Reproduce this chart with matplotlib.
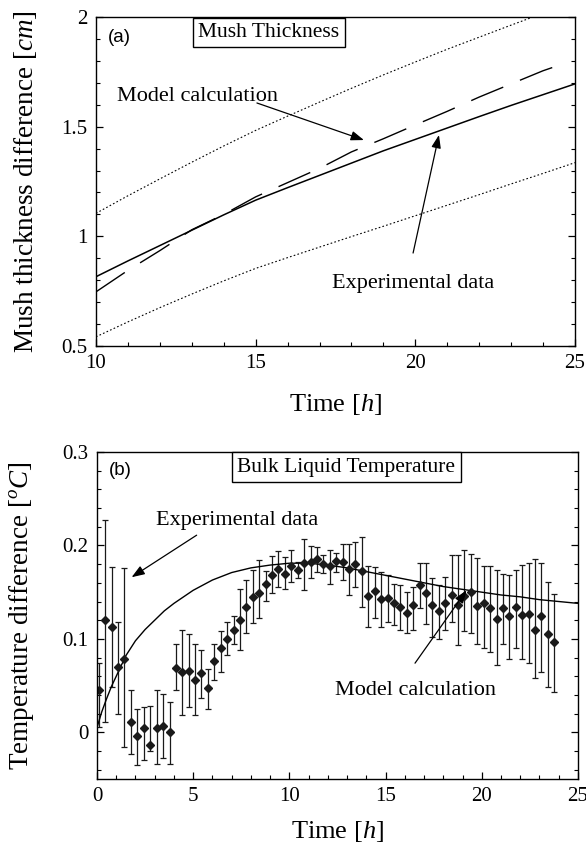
import numpy as np
import matplotlib
matplotlib.use("Agg")
import matplotlib.pyplot as plt
from matplotlib.ticker import MultipleLocator, FormatStrFormatter

plt.rcParams['font.family'] = ['Liberation Serif', 'DejaVu Serif']
plt.rcParams['mathtext.fontset'] = 'custom'
plt.rcParams['mathtext.rm'] = 'Liberation Serif'
plt.rcParams['mathtext.it'] = 'Liberation Serif:italic'

#########################
# (a) mush thickness
t_a = [10, 11, 12, 13, 14, 15, 16, 17, 18, 19, 20, 21, 22, 23, 24, 25]
mush_exp = [0.816, 0.888, 0.958, 1.028, 1.098, 1.165, 1.222, 1.278,
            1.334, 1.390, 1.442, 1.494, 1.546, 1.597, 1.646, 1.695]
mush_upper = [1.105, 1.185, 1.262, 1.338, 1.412, 1.483, 1.548, 1.612,
              1.675, 1.736, 1.795, 1.853, 1.908, 1.963, 2.017, 2.070]
mush_lower = [0.542, 0.610, 0.675, 0.737, 0.797, 0.854, 0.903, 0.951,
              0.999, 1.046, 1.094, 1.142, 1.190, 1.239, 1.287, 1.336]
t_a_model = [10, 11, 12, 13, 14, 15, 16, 17, 18, 19, 20, 21, 22, 23, 24, 24.4]
mush_model = [0.747, 0.845, 0.935, 1.030, 1.100, 1.180, 1.245, 1.310,
              1.385, 1.445, 1.508, 1.570, 1.635, 1.695, 1.755, 1.775]

# (b) bulk liquid temperature
t_b_model = [0, 0.25, 0.5, 0.75, 1, 1.5, 2, 2.5, 3, 3.5, 4, 5, 6, 7, 8, 9, 10,
             11, 12, 13, 14, 15, 16, 17, 18, 19, 20, 21, 22, 23, 24, 25]
temp_model = [0.005, 0.022, 0.036, 0.049, 0.060, 0.082, 0.098, 0.110,
              0.120, 0.130, 0.138, 0.152, 0.163, 0.171, 0.176, 0.179,
              0.181, 0.181, 0.179, 0.176, 0.172, 0.168, 0.164, 0.160,
              0.156, 0.153, 0.150, 0.147, 0.145, 0.142, 0.140, 0.138]

t_b = [0.10, 0.43, 0.77, 1.10, 1.43, 1.77, 2.10, 2.43, 2.77, 3.10, 3.43, 3.77,
       4.10, 4.43, 4.77, 5.10, 5.43, 5.77, 6.10, 6.43, 6.77, 7.10, 7.43, 7.77,
       8.10, 8.43, 8.77, 9.10, 9.43, 9.77, 10.10, 10.43, 10.77, 11.10, 11.43, 11.77,
       12.10, 12.43, 12.77, 13.10, 13.43, 13.77, 14.10, 14.43, 14.77, 15.10, 15.43, 15.77,
       16.10, 16.43, 16.77, 17.10, 17.43, 17.77, 18.10, 18.43, 18.77, 19.10, 19.43, 19.77,
       20.10, 20.43, 20.77, 21.10, 21.43, 21.77, 22.10, 22.43, 22.77, 23.10, 23.43, 23.77]
temp_exp = [0.045, 0.120, 0.113, 0.070, 0.079, 0.011, -0.004, 0.005, -0.014, 0.005, 0.007, 0.000,
            0.069, 0.065, 0.066, 0.056, 0.063, 0.047, 0.076, 0.090, 0.100, 0.109, 0.120, 0.134,
            0.145, 0.149, 0.159, 0.168, 0.175, 0.169, 0.178, 0.174, 0.181, 0.182, 0.185, 0.180,
            0.178, 0.183, 0.182, 0.175, 0.180, 0.173, 0.146, 0.151, 0.143, 0.144, 0.138, 0.134,
            0.128, 0.136, 0.158, 0.149, 0.136, 0.130, 0.138, 0.147, 0.136, 0.146, 0.150, 0.135,
            0.138, 0.133, 0.121, 0.133, 0.124, 0.134, 0.126, 0.127, 0.110, 0.124, 0.105, 0.097]
temp_hi = [0.074, 0.227, 0.177, 0.118, 0.176, 0.045, 0.025, 0.027, 0.028, 0.045, 0.041, 0.032,
           0.094, 0.110, 0.105, 0.094, 0.088, 0.068, 0.095, 0.108, 0.118, 0.124, 0.153, 0.163,
           0.174, 0.184, 0.173, 0.189, 0.194, 0.188, 0.195, 0.182, 0.207, 0.199, 0.198, 0.190,
           0.195, 0.192, 0.202, 0.202, 0.204, 0.209, 0.178, 0.177, 0.172, 0.168, 0.159, 0.158,
           0.150, 0.156, 0.181, 0.181, 0.165, 0.158, 0.166, 0.190, 0.190, 0.195, 0.191, 0.187,
           0.178, 0.178, 0.174, 0.169, 0.168, 0.174, 0.179, 0.181, 0.185, 0.181, 0.161, 0.148]
temp_lo = [0.006, 0.011, 0.049, 0.020, -0.016, -0.023, -0.035, -0.030, -0.020, -0.034, -0.028, -0.034,
           0.045, 0.018, 0.027, 0.018, 0.037, 0.025, 0.056, 0.065, 0.083, 0.095, 0.088, 0.106,
           0.117, 0.122, 0.141, 0.149, 0.156, 0.153, 0.161, 0.165, 0.152, 0.165, 0.172, 0.170,
           0.159, 0.172, 0.163, 0.147, 0.156, 0.134, 0.113, 0.122, 0.113, 0.118, 0.115, 0.109,
           0.106, 0.109, 0.133, 0.116, 0.102, 0.100, 0.109, 0.118, 0.093, 0.108, 0.106, 0.095,
           0.090, 0.086, 0.072, 0.094, 0.079, 0.090, 0.079, 0.074, 0.058, 0.065, 0.049, 0.043]
#########################

fig = plt.figure(figsize=(5.86, 8.5), dpi=100)
ax1 = fig.add_axes([0.1638, 0.5929, 0.8174, 0.3871])
ax2 = fig.add_axes([0.1655, 0.0835, 0.8208, 0.3847])

arrow = dict(arrowstyle='-|>,head_length=0.6,head_width=0.22', color='black',
             lw=0.9, shrinkA=0, shrinkB=0, mutation_scale=13)
box = dict(boxstyle='square,pad=0.25', fc='white', ec='black', lw=1.0)


def style_axes(ax):
    for s in ax.spines.values():
        s.set_linewidth(1.0)
    ax.tick_params(which='both', direction='in', top=False, right=True,
                   labelsize=15, pad=6)
    ax.tick_params(which='major', length=5, width=0.9)
    ax.tick_params(which='minor', length=3, width=0.8)


# panel (a)
ax1.plot(t_a, mush_exp, color='black', lw=1.1)
ax1.plot(t_a_model, mush_model, color='black', lw=1.0, dashes=(25, 13))
ax1.plot(t_a, mush_upper, color='black', lw=0.8, ls=(0, (1.5, 2)))
ax1.plot(t_a, mush_lower, color='black', lw=0.8, ls=(0, (1.5, 2)))
ax1.set_xlim(10, 25)
ax1.set_ylim(0.5, 2)
ax1.xaxis.set_major_locator(MultipleLocator(5))
ax1.xaxis.set_minor_locator(MultipleLocator(1))
ax1.yaxis.set_major_locator(MultipleLocator(0.5))
ax1.yaxis.set_minor_locator(MultipleLocator(0.1))
ax1.yaxis.set_major_formatter(FormatStrFormatter('%g'))
style_axes(ax1)
ax1.set_xlabel('Time [$h$]', fontsize=19, va='center')
ax1.xaxis.set_label_coords(0.5, -0.178)
ax1.set_ylabel('Mush thickness difference [$cm$]', fontsize=19.5, va='center')
ax1.yaxis.set_label_coords(-0.148, 0.5)

ax1.text(0.048, 0.937, '(a)', transform=ax1.transAxes, fontsize=13.5,
         family='Liberation Sans', ha='center', va='center')
ax1.text(0.361, 0.953, 'Mush Thickness', transform=ax1.transAxes, fontsize=15.5,
         ha='center', va='center', bbox=box)
ax1.text(13.18, 1.617, 'Model calculation', fontsize=16, ha='center', va='baseline')
ax1.annotate('', xy=(18.39, 1.439), xytext=(15.04, 1.608), arrowprops=arrow)
ax1.text(19.94, 0.764, 'Experimental data', fontsize=16, ha='center', va='baseline')
ax1.annotate('', xy=(20.74, 1.462), xytext=(19.93, 0.924), arrowprops=arrow)

# panel (b)
yerr = [np.array(temp_exp) - np.array(temp_lo), np.array(temp_hi) - np.array(temp_exp)]
ax2.errorbar(t_b, temp_exp, yerr=yerr, fmt='D', color='#1a1a1a', ms=4.2,
             elinewidth=0.9, capsize=2.5, capthick=0.9)
ax2.plot(t_b_model, temp_model, color='black', lw=1.0)
ax2.set_xlim(0, 25)
ax2.set_ylim(-0.05, 0.3)
ax2.xaxis.set_major_locator(MultipleLocator(5))
ax2.xaxis.set_minor_locator(MultipleLocator(1))
ax2.yaxis.set_major_locator(MultipleLocator(0.1))
ax2.yaxis.set_minor_locator(MultipleLocator(0.02))
ax2.yaxis.set_major_formatter(FormatStrFormatter('%g'))
style_axes(ax2)
ax2.set_xlabel('Time [$h$]', fontsize=19, va='center')
ax2.xaxis.set_label_coords(0.5, -0.16)
ax2.set_ylabel('Temperature difference [$^{o}C$]', fontsize=19.5, va='center')
ax2.yaxis.set_label_coords(-0.156, 0.5)

ax2.text(0.049, 0.942, '(b)', transform=ax2.transAxes, fontsize=13.5,
         family='Liberation Sans', ha='center', va='center')
ax2.text(0.518, 0.954, 'Bulk Liquid Temperature', transform=ax2.transAxes,
         fontsize=15.5, ha='center', va='center', bbox=box)
ax2.text(7.30, 0.2218, 'Experimental data', fontsize=16, ha='center', va='baseline')
ax2.annotate('', xy=(1.80, 0.166), xytext=(5.18, 0.211), arrowprops=arrow)
ax2.text(16.53, 0.0396, 'Model calculation', fontsize=16, ha='center', va='baseline')
ax2.annotate('', xy=(19.21, 0.152), xytext=(16.53, 0.074), arrowprops=arrow)

fig.savefig('out.png', dpi=100)
